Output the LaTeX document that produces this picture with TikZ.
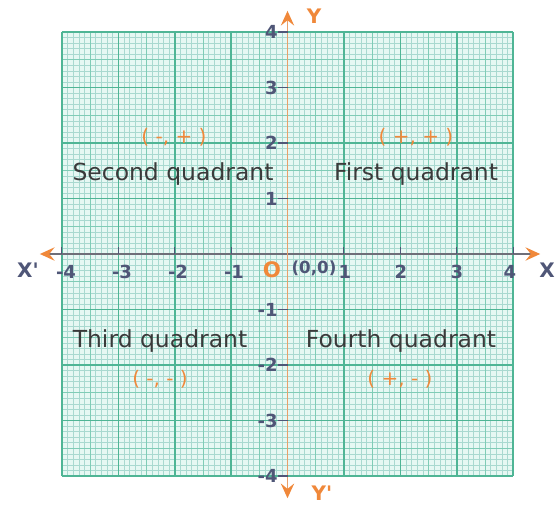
\documentclass[tikz,border=0pt]{standalone}
\usepackage{fontspec}
\setmainfont{DejaVu Sans}
\newfontfamily\rawsans{DejaVu Sans}
\usetikzlibrary{arrows.meta}
\definecolor{gridbg}{HTML}{E6F8F3}
\definecolor{minorc}{HTML}{A9D9D0}
\definecolor{midc}{HTML}{80CCB6}
\definecolor{majorc}{HTML}{4FB595}
\definecolor{axisgray}{HTML}{6E6E78}
\definecolor{orangec}{HTML}{F0883A}
\definecolor{yaxisc}{HTML}{E9A06A}
\definecolor{ticklab}{HTML}{4F5677}
\definecolor{quadtxt}{HTML}{3A3A3A}
\tikzset{
  ticktxt/.style={text=ticklab, font=\fontsize{13.5}{15}\selectfont\bfseries, inner sep=0pt},
  quadname/.style={text=quadtxt, font=\fontsize{17.6}{20}\selectfont, inner sep=0pt},
  signs/.style={text=orangec, font=\fontsize{15}{17}\selectfont, inner sep=0pt},
  axislab/.style={font=\rawsans\fontsize{15}{17}\selectfont\bfseries, inner sep=0pt},
  tipstyle/.style={-{Stealth[color=orangec,length=11pt,width=10pt,inset=4pt]}},
}
\begin{document}
\begin{tikzpicture}[x=0.75pt,y=-0.75pt]
\useasboundingbox (0,0) rectangle (557,504);
\fill[white] (0,0) rectangle (557,504);
\begin{scope}[shift={(287.5,254)}, x=42.3pt, y=-41.625pt]
  \fill[gridbg] (-4,-4) rectangle (4,4);
  \foreach \i in {-40,...,40} {
    \draw[minorc, line width=0.4pt] (\i/10,-4) -- (\i/10,4);
    \draw[minorc, line width=0.4pt] (-4,\i/10) -- (4,\i/10);
  }
  \foreach \i in {-7,-5,...,7} {
    \draw[midc, line width=0.6pt] (\i/2,-4) -- (\i/2,4);
    \draw[midc, line width=0.6pt] (-4,\i/2) -- (4,\i/2);
  }
  \foreach \i in {-4,...,4} {
    \draw[majorc, line width=1.2pt] (\i,-4) -- (\i,4);
    \draw[majorc, line width=1.2pt] (-4,\i) -- (4,\i);
  }
  \coordinate (xl) at (-4.39,0);
  \coordinate (xr) at (4.48,0);
  \coordinate (yt) at (0,4.40);
  \coordinate (yb) at (0,-4.38);
  \coordinate (o) at (0,0);
  \draw[axisgray, line width=1.3pt, tipstyle] (o) -- (xl);
  \draw[axisgray, line width=1.3pt, tipstyle] (o) -- (xr);
  \draw[yaxisc, line width=1.1pt, tipstyle] (o) -- (yt);
  \draw[yaxisc, line width=1.1pt, tipstyle] (o) -- (yb);
  \foreach \i in {-4,-3,-2,-1,1,2,3,4} {
    \draw[ticklab, line width=0.8pt] (\i,0) -- (\i,-0.12);
    \draw[ticklab, line width=0.8pt] (0,\i) -- (-0.17,\i);
  }
\end{scope}
% x tick labels
\node[ticktxt] (xm4) at (66,272) {-4};
\node[ticktxt] (xm3) at (122,272) {-3};
\node[ticktxt] (xm2) at (178,272) {-2};
\node[ticktxt] (xm1) at (234,272) {-1};
\node[ticktxt] (xp1) at (345,272) {1};
\node[ticktxt] (xp2) at (401,272) {2};
\node[ticktxt] (xp3) at (457,272) {3};
\node[ticktxt] (xp4) at (510,272) {4};
% y tick labels
\node[ticktxt, anchor=east] (yp4) at (278,32) {4};
\node[ticktxt, anchor=east] (yp3) at (278,88) {3};
\node[ticktxt, anchor=east] (yp2) at (278,143) {2};
\node[ticktxt, anchor=east] (yp1) at (278,199) {1};
\node[ticktxt, anchor=east] (ym1) at (278,310) {-1};
\node[ticktxt, anchor=east] (ym2) at (278,365) {-2};
\node[ticktxt, anchor=east] (ym3) at (278,421) {-3};
\node[ticktxt, anchor=east] (ym4) at (278,476) {-4};
% axis labels
\node[axislab, text=ticklab] (xlab) at (28,270) {X'};
\node[axislab, text=ticklab] (xrlab) at (547,270) {X};
\node[axislab, text=orangec] (ylab) at (314,16) {Y};
\node[axislab, text=orangec] (yblab) at (322,493) {Y'};
\node[text=orangec, font=\fontsize{16}{18}\selectfont\bfseries, inner sep=0pt] (olab) at (272,270) {O};
\node[ticktxt, font=\fontsize{12.5}{15}\selectfont\bfseries] (oo) at (314,268) {(0,0)};
% quadrants
\node[signs] (s2) at (174,137) {( -, + )};
\node[quadname] (q2) at (173,174) {Second quadrant};
\node[signs] (s1) at (416,137) {( +, + )};
\node[quadname] (q1) at (416,174) {First quadrant};
\node[quadname] (q3) at (160,341) {Third quadrant};
\node[signs] (s3) at (160,379) {( -, - )};
\node[quadname] (q4) at (401,341) {Fourth quadrant};
\node[signs] (s4) at (400,379) {( +, - )};
\end{tikzpicture}
\end{document}
